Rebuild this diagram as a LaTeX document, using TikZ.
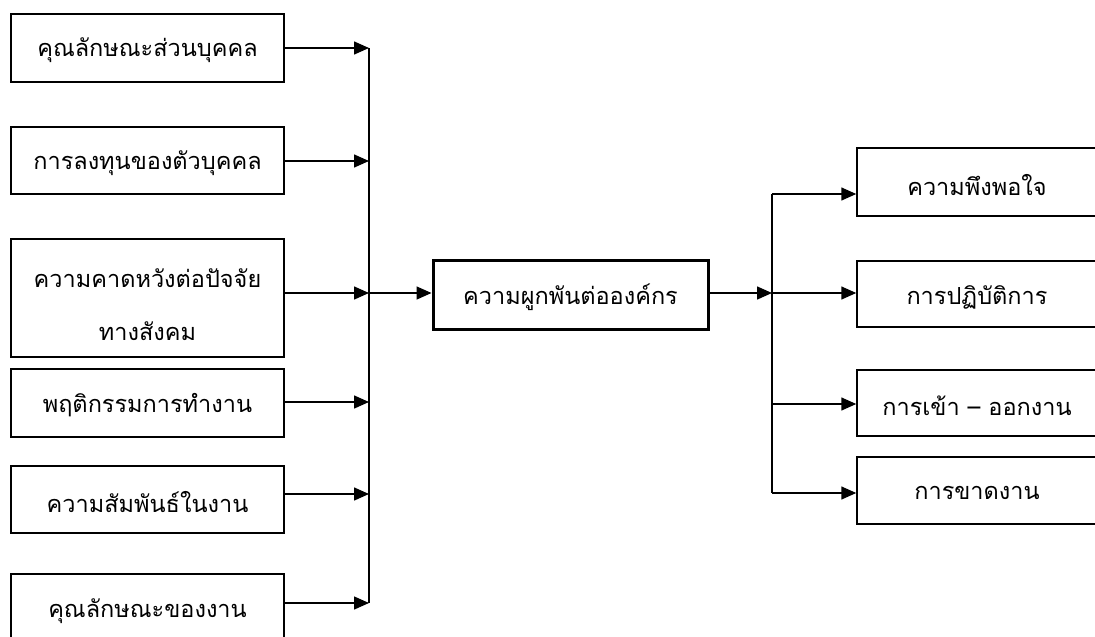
\documentclass[tikz,border=0pt]{standalone}
\usepackage{fontspec}
\setmainfont{Loma}[Script=Thai]
\usetikzlibrary{arrows.meta}
\begin{document}
\begin{tikzpicture}[x=1pt,y=-1pt,
  box/.style={draw=black,line width=1.5pt,fill=white,inner sep=0pt},
  mainbox/.style={draw=black,line width=3pt,fill=white,inner sep=0pt},
  lbl/.style={font=\fontsize{23.5}{28}\selectfont,inner sep=0pt,align=center},
  conn/.style={line width=1.5pt},
  arr/.style={line width=1.5pt,-{Triangle[length=15pt,width=13pt]}}]
\useasboundingbox (0,0) rectangle (1095,637);
\clip (0,0) rectangle (1095,637);
% left boxes
\node[box,minimum width=273pt,minimum height=68pt] (b1) at (147.5,48) {};
\node[box,minimum width=273pt,minimum height=67pt] (b2) at (147.5,160.5) {};
\node[box,minimum width=273pt,minimum height=118pt] (b3) at (147.5,298) {};
\node[box,minimum width=273pt,minimum height=68pt] (b4) at (147.5,403) {};
\node[box,minimum width=273pt,minimum height=67pt] (b5) at (147.5,499.5) {};
\node[box,minimum width=273pt,minimum height=68pt] (b6) at (147.5,608) {};
\node[lbl] (t1) at (147.5,50) {คุณลักษณะส่วนบุคคล};
\node[lbl] (t2) at (147.5,163) {การลงทุนของตัวบุคคล};
\node[lbl] (t3a) at (147.5,278) {ความคาดหวังต่อปัจจัย};
\node[lbl] (t3b) at (147.5,331) {ทางสังคม};
\node[lbl] (t4) at (147.5,405) {พฤติกรรมการทำงาน};
\node[lbl] (t5) at (147.5,502) {ความสัมพันธ์ในงาน};
\node[lbl] (t6) at (147.5,611) {คุณลักษณะของงาน};
% centre box
\node[mainbox,minimum width=275pt,minimum height=69pt] (c) at (570.5,294.5) {};
\node[lbl] (tc) at (570.5,297) {ความผูกพันต่อองค์กร};
% right boxes
\node[box,minimum width=240pt,minimum height=68pt] (r1) at (977,182) {};
\node[box,minimum width=240pt,minimum height=66pt] (r2) at (977,294) {};
\node[box,minimum width=240pt,minimum height=66pt] (r3) at (977,403) {};
\node[box,minimum width=240pt,minimum height=67pt] (r4) at (977,490.5) {};
\node[lbl] (u1) at (977,185) {ความพึงพอใจ};
\node[lbl] (u2) at (977,297) {การปฏิบัติการ};
\node[lbl] (u3) at (977,406) {การเข้า – ออกงาน};
\node[lbl] (u4) at (977,493) {การขาดงาน};
% junctions
\coordinate (j1) at (369,48);
\coordinate (j2) at (369,161);
\coordinate (j3) at (369,293);
\coordinate (j4) at (369,402);
\coordinate (j5) at (369,494);
\coordinate (j6) at (369,603);
\coordinate (k0) at (772,293);
\coordinate (k1) at (772,194);
\coordinate (k4) at (772,493);
\coordinate (k3) at (772,404);
% left bus
\draw[conn] (j1) -- (j6);
\foreach \b/\j in {b1/j1,b2/j2,b3/j3,b4/j4,b5/j5,b6/j6}
  \draw[arr] (\b.east |- \j) -- (\j);
\draw[arr] (j3) -- (c.west |- j3);
% right bus
\draw[arr] (c.east |- k0) -- (k0);
\draw[conn] (k1) -- (k4);
\draw[arr] (k1) -- (r1.west |- k1);
\draw[arr] (k0) -- (r2.west |- k0);
\draw[arr] (k3) -- (r3.west |- k3);
\draw[arr] (k4) -- (r4.west |- k4);
\end{tikzpicture}
\end{document}
